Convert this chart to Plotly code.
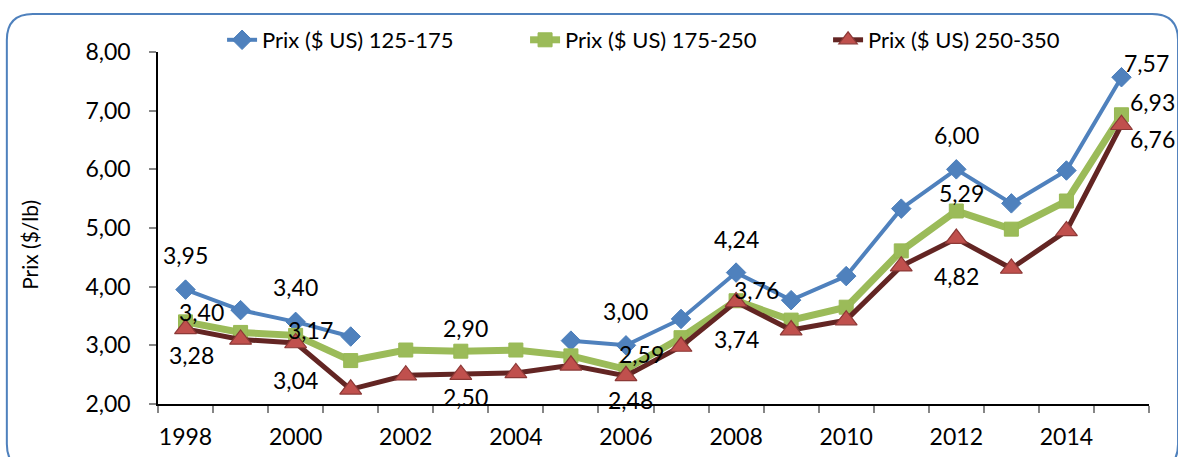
import plotly.graph_objects as go

years = list(range(1998, 2016))
series_names = ["Prix ($ US) 125-175", "Prix ($ US) 175-250", "Prix ($ US) 250-350"]
prix_125_175 = [3.95, 3.60, 3.40, 3.15, None, None, None, 3.08, 3.00, 3.45,
                4.24, 3.77, 4.18, 5.33, 6.00, 5.42, 5.98, 7.57]
prix_175_250 = [3.40, 3.22, 3.17, 2.74, 2.92, 2.90, 2.92, 2.82, 2.59, 3.13,
                3.76, 3.43, 3.65, 4.61, 5.29, 4.98, 5.46, 6.93]
prix_250_350 = [3.28, 3.10, 3.04, 2.25, 2.49, 2.50, 2.53, 2.66, 2.48, 2.98,
                3.74, 3.26, 3.43, 4.35, 4.82, 4.31, 4.95, 6.76]
y_ticks = [2, 3, 4, 5, 6, 7, 8]
x_label_years = [1998, 2000, 2002, 2004, 2006, 2008, 2010, 2012, 2014]

# which points carry a data label (year -> pixel offset for the label)
label_offsets = [
    {1998: (0, 35), 2000: (0, 35), 2006: (0, 34), 2008: (0, 34), 2012: (0, 34), 2015: (25, 14)},
    {1998: (16, 10), 2000: (15, 5), 2003: (5, 23), 2006: (16, 15), 2008: (20, 11), 2012: (5, 18), 2015: (31, 13)},
    {1998: (6, -26), 2000: (0, -37), 2003: (5, -22), 2006: (5, -24), 2008: (0, -37), 2012: (0, -37), 2015: (31, -14)},
]

FONT = "Lato"
blue = "#4F81BD"
green = "#9BBB59"
red_line = "#632523"
red_fill = "#C0504D"

fig = go.Figure()
fig.add_trace(go.Scatter(
    x=years, y=prix_125_175, name=series_names[0], mode="lines+markers",
    line=dict(color=blue, width=4), connectgaps=False,
    marker=dict(symbol="diamond", size=15, color=blue, line=dict(color="#4A7EBB", width=1)),
))
fig.add_trace(go.Scatter(
    x=years, y=prix_175_250, name=series_names[1], mode="lines+markers",
    line=dict(color=green, width=7),
    marker=dict(symbol="square", size=14, color=green, line=dict(color="#98B954", width=1)),
))
fig.add_trace(go.Scatter(
    x=years, y=prix_250_350, name=series_names[2], mode="lines+markers",
    line=dict(color=red_line, width=5),
    marker=dict(symbol="triangle-up", size=19, color=red_fill, line=dict(color="#8C3836", width=1.2)),
))

annotations = []
for values, offsets in zip([prix_125_175, prix_175_250, prix_250_350], label_offsets):
    for yr, (dx, dy) in offsets.items():
        v = values[years.index(yr)]
        annotations.append(dict(
            x=yr, y=v, xref="x", yref="y", text=f"{v:.2f}".replace(".", ","),
            showarrow=False, xshift=dx, yshift=dy, xanchor="center", yanchor="middle",
            font=dict(family=FONT, size=23, color="#000000"),
        ))

def px(x):
    return (x - 158) / 990

def py(y):
    return (404 - y) / 352

# y axis title
annotations.append(dict(
    x=px(29), y=py(245), xref="paper", yref="paper", xanchor="center", yanchor="middle",
    text="Prix ($/lb)", textangle=-90, showarrow=False,
    font=dict(family=FONT, size=21, color="#000000"),
))

L, R, T, B, r = 7, 1177, 14, 470, 26
path = (
    f"M {px(L + r)},{py(T)} L {px(R - r)},{py(T)} Q {px(R)},{py(T)} {px(R)},{py(T + r)} "
    f"L {px(R)},{py(B - r)} Q {px(R)},{py(B)} {px(R - r)},{py(B)} "
    f"L {px(L + r)},{py(B)} Q {px(L)},{py(B)} {px(L)},{py(B - r)} "
    f"L {px(L)},{py(T + r)} Q {px(L)},{py(T)} {px(L + r)},{py(T)} Z"
)

fig.update_layout(
    width=1178, height=457,
    margin=dict(l=158, r=29, t=52, b=53, autoexpand=False),
    paper_bgcolor="white", plot_bgcolor="white",
    separators=", ",
    font=dict(family=FONT, size=23, color="#000000"),
    showlegend=True,
    legend=dict(
        orientation="h", x=px(222), y=py(40), xanchor="left", yanchor="middle",
        font=dict(family=FONT, size=22, color="#000000"),
        entrywidth=258, entrywidthmode="pixels", bgcolor="rgba(0,0,0,0)",
        itemclick=False,
    ),
    annotations=annotations,
    shapes=[dict(type="path", path=path, xref="paper", yref="paper",
                 line=dict(color=blue, width=2), fillcolor="rgba(0,0,0,0)", layer="below")],
)

fig.update_xaxes(
    range=[1997.5, 2015.5], tickmode="array", tickvals=x_label_years,
    ticktext=[str(v) for v in x_label_years], ticks="", automargin=False,
    showline=True, linecolor="#000000", linewidth=1.5, showgrid=False, zeroline=False,
    tickfont=dict(family=FONT, size=23), ticklabelstandoff=12,
    minor=dict(tick0=1997.5, dtick=1, ticks="outside", ticklen=7, tickcolor="#868686",
               tickwidth=1.5, showgrid=False),
)
fig.update_yaxes(
    range=[2, 8], tickmode="array", tickvals=y_ticks, tickformat=".2f", automargin=False,
    ticks="outside", ticklen=7, tickcolor="#868686", tickwidth=1.5,
    showline=True, linecolor="#000000", linewidth=1.5, showgrid=False, zeroline=False,
    tickfont=dict(family=FONT, size=23), ticklabelstandoff=14,
)

fig.write_html(
    "out.html",
    config={"displayModeBar": False},
    post_script="document.body.style.margin='0';document.body.style.overflow='hidden';",
)
